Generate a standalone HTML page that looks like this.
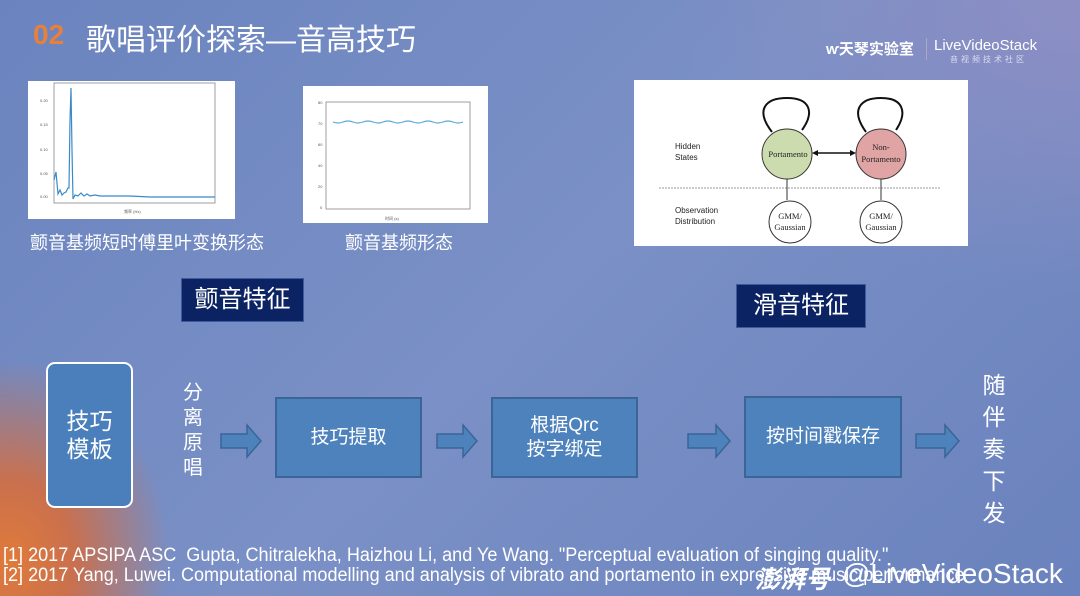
<!DOCTYPE html>
<html><head><meta charset="utf-8">
<style>
html,body{margin:0;padding:0}
body{width:1080px;height:596px;overflow:hidden;position:relative;font-family:"Liberation Sans","Noto Sans CJK SC",sans-serif;
background:radial-gradient(ellipse 160px 200px at 10px 560px,#e07a3a 0%,#c9704e 40%,rgba(111,135,192,0) 100%),
radial-gradient(ellipse 400px 300px at 1080px 0px,#8d8fc4 0%,rgba(111,135,192,0) 100%),
linear-gradient(135deg,#6b84bf 0%,#7a90c6 50%,#6a82bd 100%);}
.a{position:absolute}
.cn{font-family:"Liberation Sans","Noto Sans CJK SC",sans-serif;color:#fff}
.tag{position:absolute;background:#0b2362;border:1px solid #3c5a9c;color:#fff;font-size:24px;text-align:center;box-sizing:border-box}
.box{position:absolute;background:#4d82bd;border:2px solid #3a6596;color:#fff;font-size:19px;text-align:center;box-sizing:border-box;display:flex;align-items:center;justify-content:center;line-height:24px}
</style></head><body>
<div class="a" style="left:33px;top:19px;font-size:28px;font-weight:bold;color:#e8803a">02</div>
<div class="a cn" style="left:86px;top:15px;font-size:30px;color:#fff">歌唱评价探索—音高技巧</div>

<div class="a cn" style="left:826px;top:38px;font-size:15px;font-weight:bold">ⱳ天琴实验室</div>
<div class="a" style="left:926px;top:38px;width:1px;height:22px;background:#aab"></div>
<div class="a" style="left:934px;top:37px;font-size:15px;color:#fff">LiveVideoStack</div>
<div class="a cn" style="left:950px;top:54px;font-size:8px;color:#dde;letter-spacing:3px">音视频技术社区</div>

<svg class="a" style="left:0;top:0" width="1080" height="596">
 <rect x="28" y="81" width="207" height="138" fill="#fff"/>
 <rect x="54" y="83" width="161" height="120" fill="none" stroke="#888" stroke-width="0.8"/>
 <polyline fill="none" stroke="#3a8ac8" stroke-width="1.2" points="54,180 56,172 58,194 60,190 62,195 64,193 66,192 68,188 69,188 70,120 71,88 72,150 73,199 75,195 78,196 81,193 84,196 87,194 90,196 95,195 100,196 110,196 120,196 130,196 150,197 170,197 190,197 215,197"/>
 <g font-size="4" fill="#555" font-family="Liberation Sans"><text x="40" y="102">0.20</text><text x="40" y="126">0.15</text><text x="40" y="151">0.10</text><text x="40" y="175">0.05</text><text x="40" y="198">0.00</text><text x="124" y="213">频率 (Hz)</text></g>
 <rect x="303" y="86" width="185" height="137" fill="#fff"/>
 <rect x="326" y="102" width="144" height="107" fill="none" stroke="#888" stroke-width="0.8"/>
 <path d="M333,122 q5,2 10,0 t10,0 t10,0 t10,0 t10,0 t10,0 t10,0 t10,0 t10,0 t10,0 t10,0 t10,0 t10,0" fill="none" stroke="#5aa8d8" stroke-width="1.2"/>
 <g font-size="4" fill="#555" font-family="Liberation Sans"><text x="385" y="220">时间 (s)</text><text x="318" y="104">80</text><text x="318" y="125">70</text><text x="318" y="146">60</text><text x="318" y="167">40</text><text x="318" y="188">20</text><text x="320" y="209">0</text></g>
 <rect x="634" y="80" width="334" height="166" fill="#fff"/>
 <g font-family="Liberation Sans" font-size="8" fill="#222"><text x="675" y="149">Hidden</text><text x="675" y="160">States</text><text x="675" y="213">Observation</text><text x="675" y="224">Distribution</text></g>
 <line x1="659" y1="188" x2="940" y2="188" stroke="#999" stroke-dasharray="2,1"/>
 <path d="M772,132 C755,110 765,98 787,98 C810,98 815,112 802,130" fill="none" stroke="#111" stroke-width="2"/>
 <path d="M866,132 C850,110 860,98 881,98 C903,98 908,112 896,130" fill="none" stroke="#111" stroke-width="2"/>
 <circle cx="787" cy="154" r="25" fill="#cddcae" stroke="#333"/>
 <circle cx="881" cy="154" r="25" fill="#e0a4a4" stroke="#333"/>
 <line x1="816" y1="153" x2="852" y2="153" stroke="#111" stroke-width="1.5"/>
 <path d="M812,153 l6,-3 v6z M856,153 l-6,-3 v6z" fill="#111"/>
 <line x1="787" y1="179" x2="787" y2="200" stroke="#333"/><line x1="881" y1="179" x2="881" y2="200" stroke="#333"/>
 <circle cx="790" cy="222" r="21" fill="#fff" stroke="#333"/><circle cx="881" cy="222" r="21" fill="#fff" stroke="#333"/>
 <g font-family="Liberation Serif" font-size="8.5" fill="#222" text-anchor="middle"><text x="788" y="157">Portamento</text><text x="881" y="150">Non-</text><text x="881" y="162">Portamento</text><text x="790" y="219">GMM/</text><text x="790" y="230">Gaussian</text><text x="881" y="219">GMM/</text><text x="881" y="230">Gaussian</text></g>
 <g fill="#4d82bd" stroke="#3a6596" stroke-width="1.5">
  <path d="M221,434 h26 v-9 l14,16 l-14,16 v-9 h-26z"/>
  <path d="M437,434 h26 v-9 l14,16 l-14,16 v-9 h-26z"/>
  <path d="M688,434 h28 v-9 l14,16 l-14,16 v-9 h-28z"/>
  <path d="M916,434 h29 v-9 l14,16 l-14,16 v-9 h-29z"/>
 </g>
 <path d="M882,405 v10 l2.5,-2.5 l2,4 l1.5,-0.8 l-2,-4 h3.5z" fill="#111" stroke="#fff" stroke-width="0.5"/>
</svg>

<div class="a cn" style="left:30px;top:229px;font-size:18px">颤音基频短时傅里叶变换形态</div>
<div class="a cn" style="left:345px;top:229px;font-size:18px">颤音基频形态</div>

<div class="tag" style="left:181px;top:278px;width:123px;height:44px;line-height:42px">颤音特征</div>
<div class="tag" style="left:736px;top:284px;width:130px;height:44px;line-height:42px">滑音特征</div>

<div class="a" style="left:46px;top:362px;width:87px;height:146px;box-sizing:border-box;border:2px solid #fff;border-radius:9px;background:#4a7fbc;color:#fff;font-size:23px;line-height:28px;display:flex;align-items:center;justify-content:center;text-align:center">技巧<br>模板</div>

<div class="a cn" style="left:181px;top:381px;width:24px;font-size:20px;line-height:25px;text-align:center">分<br>离<br>原<br>唱</div>

<div class="box" style="left:275px;top:397px;width:147px;height:81px">技巧提取</div>
<div class="box" style="left:491px;top:397px;width:147px;height:81px">根据Qrc<br>按字绑定</div>
<div class="box" style="left:744px;top:396px;width:158px;height:82px">按时间戳保存</div>

<div class="a cn" style="left:980px;top:369px;width:28px;font-size:23px;line-height:32px;text-align:center">随<br>伴<br>奏<br>下<br>发</div>

<div class="a" style="left:3px;top:546px;font-size:19px;color:#fff;transform:scaleX(0.95);transform-origin:left;white-space:nowrap;line-height:20px">[1] 2017 APSIPA ASC&nbsp; Gupta, Chitralekha, Haizhou Li, and Ye Wang. "Perceptual evaluation of singing quality."<br>[2] 2017 Yang, Luwei. Computational modelling and analysis of vibrato and portamento in expressive music performance</div>
<div class="a cn" style="left:755px;top:560px;font-size:25px;font-weight:bold;font-style:italic;color:#fff">澎湃号</div>
<div class="a" style="left:842px;top:558px;font-size:28px;color:#fff;white-space:nowrap">@LiveVideoStack</div>
</body></html>
